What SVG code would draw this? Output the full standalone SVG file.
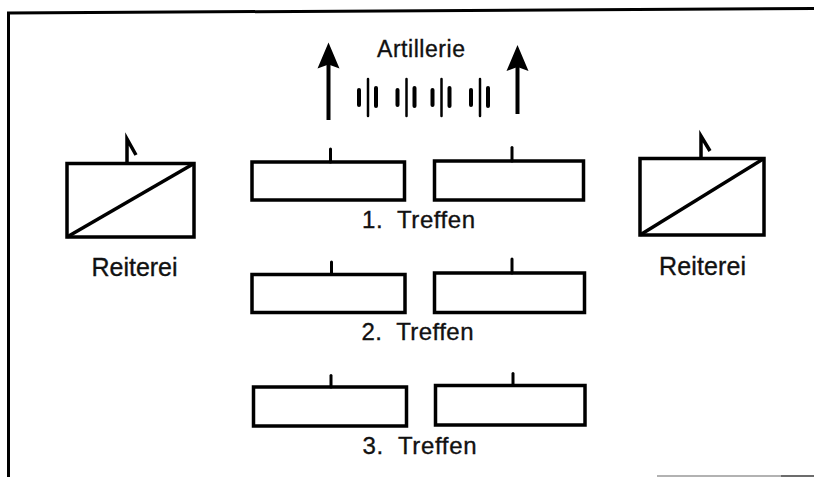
<svg xmlns="http://www.w3.org/2000/svg" width="814" height="477" viewBox="0 0 814 477">
<style>
.box{fill:none;stroke:#000;stroke-width:3.5;stroke-linejoin:miter}
.tick{stroke:#000;stroke-width:3;stroke-linecap:round;fill:none}
.flag{stroke:#000;stroke-width:3.5;fill:none;stroke-linejoin:miter;stroke-linecap:butt}
.diag{stroke:#000;stroke-width:3.5}
.lbl{font-family:"Liberation Sans",Arial,Helvetica,sans-serif;font-size:24px;fill:#111;text-anchor:middle;stroke:#111;stroke-width:0.35;white-space:pre}
.big{font-size:25px}
.art{font-size:23px}
.shaft{stroke:#000;stroke-width:4}
.gun{stroke:#000;stroke-width:2.5;stroke-linecap:round}
.bar{stroke:#000;stroke-width:4;stroke-linecap:round}
.frame{stroke:#000;stroke-width:3;fill:none}
</style>
<defs>
<path id="head" d="M0,0 L11,26 L0,22 L-11,26 Z" fill="#000"/>
<g id="battery">
<line class="gun" x1="0" y1="79" x2="0" y2="116"/>
<line class="bar" x1="-9" y1="90" x2="-9" y2="105"/>
<line class="bar" x1="8" y1="88" x2="8" y2="106"/>
</g>
</defs>
<g id="frame">
<path class="frame" d="M8.5,477 L8.5,13 L814,8.5"/>
<line x1="657" y1="476" x2="814" y2="476" stroke="#999" stroke-width="1.5"/>
<line x1="781" y1="476" x2="814" y2="476" stroke="#555" stroke-width="1.5"/>
</g>
<g id="artillery">
<text class="lbl art" x="421" y="57" textLength="88" lengthAdjust="spacing">Artillerie</text>
<use href="#battery" x="368" y="0"/>
<use href="#battery" x="406.5" y="0"/>
<use href="#battery" x="441.5" y="0"/>
<use href="#battery" x="480" y="0"/>
</g>
<g id="arrows">
<line class="shaft" x1="328.5" y1="120" x2="328.5" y2="60"/>
<use href="#head" x="328.5" y="42.5"/>
<line class="shaft" x1="517.5" y1="114" x2="517.5" y2="62"/>
<use href="#head" x="517.5" y="45"/>
</g>
<g id="reiterei-left">
<rect class="box" x="67" y="163.5" width="127" height="73.5"/>
<line class="diag" x1="67" y1="237" x2="194" y2="163.5"/>
<polyline class="flag" points="127,163 127,139 136,155"/>
<text class="lbl big" x="134.5" y="275.5" textLength="86" lengthAdjust="spacing">Reiterei</text>
</g>
<g id="reiterei-right">
<rect class="box" x="640" y="158.5" width="124" height="76.5"/>
<line class="diag" x1="640" y1="235" x2="764" y2="158.5"/>
<polyline class="flag" points="701,158 701,136 710,151"/>
<text class="lbl big" x="702.5" y="274.5" textLength="87" lengthAdjust="spacing">Reiterei</text>
</g>
<g id="treffen-1">
<rect class="box" x="252" y="162" width="152.5" height="38"/>
<line class="tick" x1="330.5" y1="149" x2="330.5" y2="162"/>
<rect class="box" x="434.5" y="161" width="149" height="39"/>
<line class="tick" x1="512" y1="147.5" x2="512" y2="161"/>
<text class="lbl" x="418.5" y="227.5" textLength="113" lengthAdjust="spacing" xml:space="preserve">1.  Treffen</text>
</g>
<g id="treffen-2">
<rect class="box" x="252" y="274.5" width="153" height="38"/>
<line class="tick" x1="331.5" y1="262" x2="331.5" y2="274.5"/>
<rect class="box" x="434.5" y="273" width="150" height="39.5"/>
<line class="tick" x1="512" y1="259" x2="512" y2="273"/>
<text class="lbl" x="417.5" y="340" textLength="112" lengthAdjust="spacing" xml:space="preserve">2.  Treffen</text>
</g>
<g id="treffen-3">
<rect class="box" x="253.5" y="387" width="153" height="39"/>
<line class="tick" x1="331" y1="375.5" x2="331" y2="387"/>
<rect class="box" x="435.5" y="385.5" width="149.5" height="39.5"/>
<line class="tick" x1="513" y1="373.5" x2="513" y2="385.5"/>
<text class="lbl" x="419.5" y="453.5" textLength="114" lengthAdjust="spacing" xml:space="preserve">3.  Treffen</text>
</g>
</svg>
